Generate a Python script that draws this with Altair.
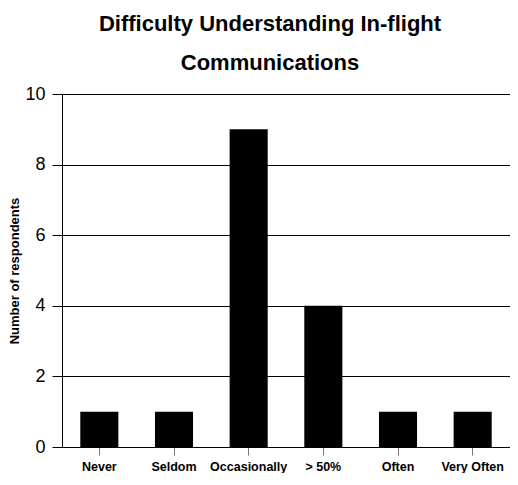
import altair as alt
import pandas as pd

categories = ["Never", "Seldom", "Occasionally", "> 50%", "Often", "Very Often"]
respondents = [1, 1, 9, 4, 1, 1]
y_ticks = [0, 2, 4, 6, 8, 10]

df = pd.DataFrame({"category": categories, "count": respondents})

chart = alt.Chart(df).mark_bar(color="black").encode(
    x=alt.X(
        "category:N",
        sort=categories,
        scale=alt.Scale(paddingInner=0.49, paddingOuter=0.245),
        axis=alt.Axis(
            title=None,
            labelAngle=0,
            labelFont="Liberation Sans",
            labelFontSize=12.5,
            labelFontWeight="bold",
            labelColor="black",
            labelPadding=5,
            tickSize=8,
            tickColor="#777777",
            domainColor="black",
            grid=False,
        ),
    ),
    y=alt.Y(
        "count:Q",
        scale=alt.Scale(domain=[0, 10]),
        axis=alt.Axis(
            values=y_ticks,
            title="Number of respondents",
            titleFont="Liberation Sans",
            titleFontSize=13,
            titleFontWeight="bold",
            titleColor="black",
            titlePadding=3,
            labelFont="Liberation Sans",
            labelFontSize=18,
            labelColor="black",
            labelPadding=7,
            tickSize=10,
            tickColor="black",
            domainColor="black",
            gridColor="black",
            gridWidth=1,
        ),
    ),
).properties(
    width=448,
    height=353,
    title=alt.TitleParams(
        text=["Difficulty Understanding In-flight", "Communications"],
        font="Liberation Sans",
        fontSize=22,
        fontWeight="bold",
        color="black",
        lineHeight=39,
        anchor="middle",
        dx=-16,
        offset=10,
    ),
    padding={"left": 0, "top": 5, "right": 0, "bottom": 0},
).configure_view(stroke=None)

chart.save("out.html", embed_options={"renderer": "svg", "actions": False})
